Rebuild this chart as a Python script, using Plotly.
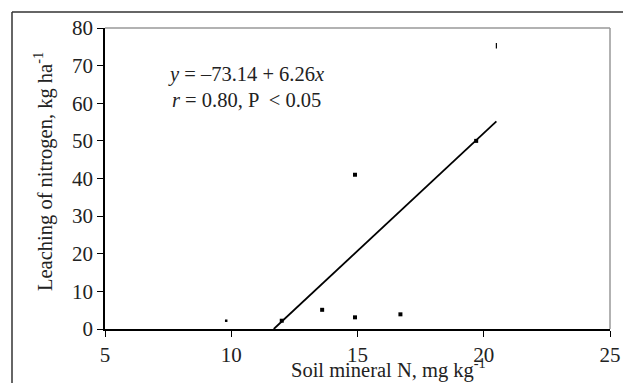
import plotly.graph_objects as go

# Data
soil_n = [9.8, 12.0, 13.6, 14.9, 14.9, 16.7, 19.7, 20.5]
leaching = [2.2, 2.2, 5.1, 3.1, 41.0, 3.9, 50.0, 75.3]
intercept = -73.14
slope = 6.26
x_ticks = [5, 10, 15, 20, 25]
y_ticks = [0, 10, 20, 30, 40, 50, 60, 70, 80]

FONT = "Liberation Serif, Times New Roman, serif"
TXT = 20.5

fit_x = [-intercept / slope, max(soil_n)]
fit_y = [intercept + slope * v for v in fit_x]

fig = go.Figure()
fig.add_trace(go.Scatter(x=fit_x, y=fit_y, mode="lines",
                         line=dict(color="black", width=1.8), showlegend=False,
                         cliponaxis=False))
fig.add_trace(go.Scatter(x=soil_n[1:7], y=leaching[1:7], mode="markers",
                         marker=dict(symbol="square", size=4, color="black"),
                         showlegend=False))
fig.add_trace(go.Scatter(x=[soil_n[0]], y=[leaching[0]], mode="markers",
                         marker=dict(symbol="square", size=2.5, color="black"),
                         showlegend=False))
fig.add_trace(go.Scatter(x=[soil_n[7]], y=[leaching[7]], mode="markers",
                         marker=dict(symbol="line-ns", size=4, line=dict(color="black", width=1.2)),
                         showlegend=False))

W, H = 623, 383
L, T = 105, 28
B = H - 329
R = W - 610
pw, ph = W - L - R, H - T - B

def px(xp):
    return (xp - L) / pw

def py(yp):
    return (H - B - yp) / ph

fig.update_layout(
    width=W, height=H,
    margin=dict(l=L, r=R, t=T, b=B, pad=0, autoexpand=False),
    paper_bgcolor="white", plot_bgcolor="white",
    font=dict(family=FONT, size=TXT, color="#222"),
    xaxis=dict(range=[5, 25], tickvals=x_ticks, showgrid=False, zeroline=False,
               automargin=False,
               showline=True, linecolor="black", linewidth=1.5,
               ticks="outside", ticklen=6, tickcolor="black", tickwidth=1.2,
               tickfont=dict(size=21, family=FONT, color="#222")),
    yaxis=dict(range=[0, 80], tickvals=y_ticks, showgrid=False, zeroline=False,
               automargin=False,
               showline=True, linecolor="black", linewidth=1.5,
               ticks="outside", ticklen=6, tickcolor="black", tickwidth=1.2,
               tickfont=dict(size=21, family=FONT, color="#222")),
    shapes=[
        dict(type="line", xref="paper", yref="paper", x0=0, x1=1, y0=1, y1=1,
             line=dict(color="#999", width=1.5)),
        dict(type="line", xref="paper", yref="paper", x0=1, x1=1, y0=0, y1=1,
             line=dict(color="#999", width=1.5)),
        dict(type="line", xref="paper", yref="paper", x0=px(12), x1=px(623), y0=py(12), y1=py(12),
             line=dict(color="#333", width=1.5)),
        dict(type="line", xref="paper", yref="paper", x0=px(12), x1=px(12), y0=py(12), y1=py(383),
             line=dict(color="#333", width=1.5)),
    ],
    annotations=[
        dict(text="<i>y</i> = \u201373.14 + 6.26<i>x</i>", xref="paper", yref="paper",
             x=px(246), y=py(74), showarrow=False, xanchor="center", yanchor="middle",
             font=dict(size=TXT, family=FONT, color="#222")),
        dict(text="<i>r</i> = 0.80, P \u00a0< 0.05", xref="paper", yref="paper",
             x=px(246), y=py(100), showarrow=False, xanchor="center", yanchor="middle",
             font=dict(size=TXT, family=FONT, color="#222")),
        dict(text="Soil mineral N, mg kg<sup>-1</sup>", xref="paper", yref="paper",
             x=px(388), y=py(368), showarrow=False, xanchor="center", yanchor="middle",
             font=dict(size=TXT, family=FONT, color="#222")),
        dict(text="Leaching of nitrogen, kg ha<sup>-1</sup>", xref="paper", yref="paper",
             x=px(43), y=py(172), showarrow=False, xanchor="center", yanchor="middle",
             textangle=-90, font=dict(size=TXT, family=FONT, color="#222")),
    ],
)

fig.write_html("out.html", config={"displayModeBar": False},
               post_script="document.body.style.margin='0';document.body.style.overflow='hidden';"
                           "document.documentElement.style.overflow='hidden';")
